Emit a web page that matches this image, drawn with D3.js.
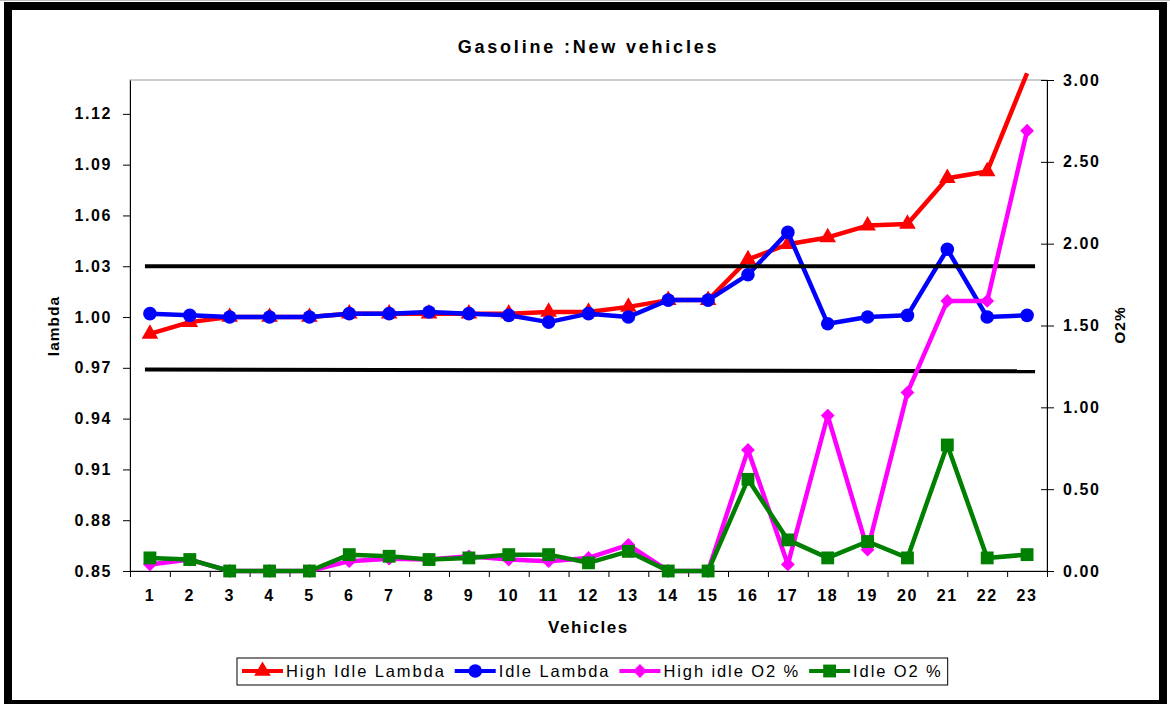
<!DOCTYPE html>
<html>
<head>
<meta charset="utf-8">
<script src="https://cdn.jsdelivr.net/npm/d3@7"></script>
<style>
  body { margin: 0; background: #fff; }
  svg { display: block; font-family: "Liberation Sans", Arial, sans-serif; }
</style>
</head>
<body>
<svg id="chart" width="1170" height="704"></svg>
<script>
// vehicles on the x axis
var vehicles = d3.range(1, 24).map(String);

// lambda series (left axis)
var highIdleLambda = [0.990, 0.997, 1.000, 1.000, 1.000, 1.002, 1.002, 1.002, 1.002, 1.002, 1.003, 1.003,
  1.006, 1.010, 1.010, 1.034, 1.043, 1.047, 1.054, 1.055, 1.082, 1.086, 1.144];
var idleLambda = [1.002, 1.001, 1.000, 1.000, 1.000, 1.002, 1.002, 1.003, 1.002, 1.001, 0.997, 1.002,
  1.000, 1.010, 1.010, 1.025, 1.050, 0.996, 1.000, 1.001, 1.040, 1.000, 1.001];

// O2 % series (right axis)
var highIdleO2 = [0.04, 0.07, 0.00, 0.00, 0.00, 0.06, 0.075, 0.07, 0.09, 0.07, 0.06, 0.08,
  0.16, 0.00, 0.00, 0.74, 0.04, 0.95, 0.13, 1.09, 1.65, 1.65, 2.69];
var idleO2 = [0.08, 0.07, 0.00, 0.00, 0.00, 0.10, 0.09, 0.07, 0.08, 0.10, 0.10, 0.05,
  0.12, 0.00, 0.00, 0.56, 0.19, 0.08, 0.18, 0.08, 0.77, 0.08, 0.10];

// limit lines (lambda), first and last vehicle
var upperLimit = [1.03, 1.03];
var lowerLimit = [0.969, 0.968];

var lambdaTicks = [0.85, 0.88, 0.91, 0.94, 0.97, 1.00, 1.03, 1.06, 1.09, 1.12];
var o2Ticks = [0, 0.5, 1, 1.5, 2, 2.5, 3];

var svg = d3.select("#chart");
var pLeft = 130, pRight = 1047, pTop = 80, pBottom = 571;

var x = d3.scaleBand().domain(vehicles).range([pLeft, pRight]);
var xi = d3.scaleLinear().domain([0, vehicles.length]).range([pLeft, pRight]);
var yL = d3.scaleLinear().domain([0.85, 1.14]).range([pBottom, pTop]);
var yR = d3.scaleLinear().domain([0, 3]).range([pBottom, pTop]);
var cx = function(i) { return x(vehicles[i]) + x.bandwidth() / 2; };

// outer frame
svg.append("line").attr("x1", 0).attr("x2", 1170).attr("y1", 0.5).attr("y2", 0.5)
  .attr("stroke", "#bbb");
svg.append("rect")
  .attr("x", 8).attr("y", 6).attr("width", 1155).attr("height", 698)
  .attr("fill", "none").attr("stroke", "#000").attr("stroke-width", 8);

// plot area border
svg.append("rect")
  .attr("x", pLeft).attr("y", pTop).attr("width", pRight - pLeft).attr("height", pBottom - pTop)
  .attr("fill", "none").attr("stroke", "#999").attr("stroke-width", 1);

// title
svg.append("text")
  .attr("x", (pLeft + pRight) / 2).attr("y", 53)
  .attr("text-anchor", "middle")
  .attr("font-size", 18).attr("font-weight", "bold")
  .attr("letter-spacing", 2.8)
  .text("Gasoline :New vehicles");

function styleAxis(g) {
  g.selectAll("path.domain").attr("stroke", "#000");
  g.selectAll(".tick line").attr("stroke", "#000");
  g.selectAll("text")
    .attr("font-family", "Liberation Sans, Arial, sans-serif")
    .attr("font-size", 16).attr("font-weight", "bold")
    .attr("letter-spacing", 1.6).attr("fill", "#000");
}

// left axis
svg.append("g")
  .attr("transform", "translate(" + pLeft + ",0)")
  .call(d3.axisLeft(yL).tickValues(lambdaTicks).tickFormat(d3.format(".2f"))
    .tickSize(7).tickSizeOuter(0).tickPadding(11))
  .call(styleAxis);

// right axis, ticks cross the line
var gR = svg.append("g")
  .attr("transform", "translate(" + pRight + ",0)")
  .call(d3.axisRight(yR).tickValues(o2Ticks).tickFormat(d3.format(".2f"))
    .tickSize(7).tickSizeOuter(0).tickPadding(9))
  .call(styleAxis);
gR.selectAll(".tick line").attr("x1", -6);

// bottom axis: tick marks between vehicles, labels centered
svg.append("g")
  .attr("transform", "translate(0," + pBottom + ")")
  .call(d3.axisBottom(xi).ticks(vehicles.length).tickFormat("").tickSize(6).tickSizeOuter(0))
  .call(styleAxis);
svg.append("g")
  .attr("transform", "translate(0," + pBottom + ")")
  .call(d3.axisBottom(x).tickSize(0).tickPadding(19))
  .call(styleAxis)
  .call(function(g) { g.select("path.domain").remove(); });

// axis titles
svg.append("text")
  .attr("transform", "translate(" + 59 + "," + 326 + ") rotate(-90)")
  .attr("text-anchor", "middle")
  .attr("font-size", 15.5).attr("font-weight", "bold").attr("letter-spacing", 1)
  .text("lambda");
svg.append("text")
  .attr("transform", "translate(" + 1125 + "," + 325 + ") rotate(-90)")
  .attr("text-anchor", "middle")
  .attr("font-size", 15.5).attr("font-weight", "bold").attr("letter-spacing", 1)
  .text("O2%");
svg.append("text")
  .attr("x", (pLeft + pRight) / 2).attr("y", 633)
  .attr("text-anchor", "middle")
  .attr("font-size", 17).attr("font-weight", "bold").attr("letter-spacing", 1.6)
  .text("Vehicles");

var series = [
  { name: "High Idle Lambda", values: highIdleLambda, y: yL, color: "#ff0000", symbol: d3.symbolTriangle, size: 120, rot: 0 },
  { name: "Idle Lambda", values: idleLambda, y: yL, color: "#0000ff", symbol: d3.symbolCircle, size: 145, rot: 0 },
  { name: "High idle O2 %", values: highIdleO2, y: yR, color: "#ff00ff", symbol: d3.symbolSquare, size: 95, rot: 45 },
  { name: "Idle O2 %", values: idleO2, y: yR, color: "#008000", symbol: d3.symbolSquare, size: 165, rot: 0 }
];

function drawSeries(s) {
  var line = d3.line().x(function(d, i) { return cx(i); }).y(function(d) { return s.y(d); });
  var g = svg.append("g");
  g.append("path")
    .datum(s.values)
    .attr("d", line)
    .attr("fill", "none").attr("stroke", s.color).attr("stroke-width", 4.5)
    .attr("stroke-linejoin", "round");
  g.selectAll("path.mk")
    .data(s.values.map(function(v, i) { return { v: v, i: i }; })
      .filter(function(d) { return d.v <= s.y.domain()[1]; }))
    .join("path")
    .attr("class", "mk")
    .attr("d", d3.symbol().type(s.symbol).size(s.size))
    .attr("transform", function(d) {
      return "translate(" + cx(d.i) + "," + s.y(d.v) + ") rotate(" + s.rot + ")";
    })
    .attr("fill", s.color);
}

drawSeries(series[0]);
drawSeries(series[1]);

// limit lines
[upperLimit, lowerLimit].forEach(function(lim) {
  svg.append("line")
    .attr("x1", cx(0) - 5).attr("x2", cx(vehicles.length - 1) + 8)
    .attr("y1", yL(lim[0])).attr("y2", yL(lim[1]))
    .attr("stroke", "#000").attr("stroke-width", 4);
});

drawSeries(series[2]);
drawSeries(series[3]);

// legend
var leg = svg.append("g");
var legBox = leg.append("rect")
  .attr("x", 237).attr("y", 658).attr("height", 27)
  .attr("fill", "#fff").attr("stroke", "#000").attr("stroke-width", 1);
var lx = 242;
series.forEach(function(s) {
  var item = leg.append("g").attr("transform", "translate(" + lx + ",671)");
  item.append("line").attr("x1", 0).attr("x2", 41)
    .attr("stroke", s.color).attr("stroke-width", 4);
  item.append("path")
    .attr("d", d3.symbol().type(s.symbol).size(s.size))
    .attr("transform", "translate(20.5,0) rotate(" + s.rot + ")")
    .attr("fill", s.color);
  var t = item.append("text")
    .attr("x", 44).attr("y", 6)
    .attr("font-size", 16.5).attr("letter-spacing", 1.9)
    .text(s.name);
  lx += 44 + t.node().getComputedTextLength() + 9;
});
legBox.attr("width", lx - 237 - 4);
</script>
</body>
</html>
